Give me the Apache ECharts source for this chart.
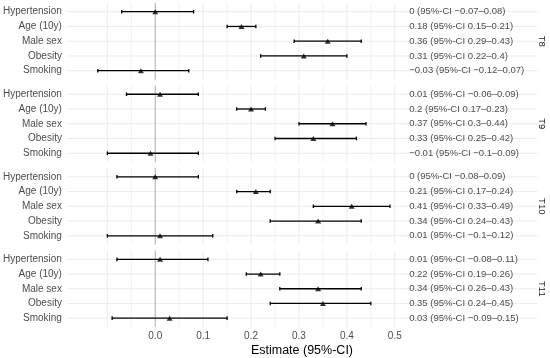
<!DOCTYPE html>
<html>
<head>
<meta charset="utf-8">
<script src="https://cdn.jsdelivr.net/npm/echarts@6/dist/echarts.min.js"></script>
<style>html,body{margin:0;padding:0;background:#fff}#c{width:550px;height:358px}</style>
</head>
<body>
<div id="c"></div>
<script>
const categories = ['Hypertension', 'Age (10y)', 'Male sex', 'Obesity', 'Smoking'];
const panels = ['T8', 'T9', 'T10', 'T11'];
const xTicks = [0, 0.1, 0.2, 0.3, 0.4, 0.5];
const xGridLines = [-0.1, -0.05, 0, 0.05, 0.1, 0.15, 0.2, 0.25, 0.3, 0.35, 0.4, 0.45, 0.5];

const estT8 = [0, 0.18, 0.36, 0.31, -0.03];
const lowT8 = [-0.07, 0.15, 0.29, 0.22, -0.12];
const highT8 = [0.08, 0.21, 0.43, 0.4, 0.07];

const estT9 = [0.01, 0.2, 0.37, 0.33, -0.01];
const lowT9 = [-0.06, 0.17, 0.3, 0.25, -0.1];
const highT9 = [0.09, 0.23, 0.44, 0.42, 0.09];

const estT10 = [0, 0.21, 0.41, 0.34, 0.01];
const lowT10 = [-0.08, 0.17, 0.33, 0.24, -0.1];
const highT10 = [0.09, 0.24, 0.49, 0.43, 0.12];

const estT11 = [0.01, 0.22, 0.34, 0.35, 0.03];
const lowT11 = [-0.08, 0.19, 0.26, 0.24, -0.09];
const highT11 = [0.11, 0.26, 0.43, 0.45, 0.15];

const ests = [estT8, estT9, estT10, estT11];
const lows = [lowT8, lowT9, lowT10, lowT11];
const highs = [highT8, highT9, highT10, highT11];

const FONT = 'Liberation Sans, Arial, Helvetica, sans-serif';
const fmt = v => String(v).replace('-', '\u2212');

const gridLeft = 66, gridWidth = 471;
const gridTop0 = 2.85, gridH = 76.7, gridStep = 82.55;
const xMin = -0.1844, xMax = 0.7969;
const yMin = -0.6, yMax = 4.6;
const labelX = 0.530;

const grids = [], xAxes = [], yAxes = [], series = [], graphics = [];

panels.forEach((p, k) => {
  const top = gridTop0 + k * gridStep;
  grids.push({left: gridLeft, width: gridWidth, top: top, height: gridH, containLabel: false});
  const last = k === panels.length - 1;
  xAxes.push({
    type: 'value', gridIndex: k, min: xMin, max: xMax,
    axisLine: {show: false}, axisTick: {show: false}, splitLine: {show: false},
    axisLabel: {
      show: last, customValues: xTicks, formatter: v => v.toFixed(1),
      color: '#4d4d4d', fontSize: 10, fontFamily: FONT, margin: 4
    },
    name: last ? 'Estimate (95%-CI)' : '', nameLocation: 'middle', nameGap: 17,
    nameTextStyle: {color: '#000', fontSize: 12.5, fontFamily: FONT}
  });
  yAxes.push({
    type: 'value', gridIndex: k, min: yMin, max: yMax, inverse: true,
    axisLine: {show: false}, axisTick: {show: false}, splitLine: {show: false},
    axisLabel: {
      customValues: [0, 1, 2, 3, 4], formatter: v => categories[Math.round(v)] || '',
      color: '#4d4d4d', fontSize: 10, fontFamily: FONT, margin: 5
    }
  });

  // background grid lines
  const gridData = [];
  xGridLines.forEach(v => gridData.push([v, 0, Math.abs(Math.round(v * 10) - v * 10) < 1e-6 ? 1 : 0]));
  categories.forEach((c, i) => gridData.push([0, i, 2]));
  series.push({
    type: 'custom', xAxisIndex: k, yAxisIndex: k, silent: true, z: 0,
    data: gridData,
    renderItem: (params, api) => {
      const kind = api.value(2);
      let a, b;
      if (kind === 2) {
        a = api.coord([xMin, api.value(1)]); b = api.coord([xMax, api.value(1)]);
      } else {
        a = api.coord([api.value(0), yMin]); b = api.coord([api.value(0), yMax]);
      }
      return {type: 'line', shape: {x1: a[0], y1: a[1], x2: b[0], y2: b[1]},
        style: {stroke: '#ebebeb', lineWidth: kind === 0 ? 0.7 : 1}};
    }
  });
  // zero reference line
  series.push({
    type: 'custom', xAxisIndex: k, yAxisIndex: k, silent: true, z: 1,
    data: [[0]],
    renderItem: (params, api) => {
      const a = api.coord([api.value(0), yMin]), b = api.coord([api.value(0), yMax]);
      return {type: 'line', shape: {x1: a[0], y1: a[1], x2: b[0], y2: b[1]},
        style: {stroke: '#b3b3b3', lineWidth: 1}};
    }
  });
  // error bars
  series.push({
    type: 'custom', xAxisIndex: k, yAxisIndex: k, silent: true, z: 2,
    data: categories.map((c, i) => [lows[k][i], highs[k][i], i]),
    renderItem: (params, api) => {
      const a = api.coord([api.value(0), api.value(2)]);
      const b = api.coord([api.value(1), api.value(2)]);
      const st = {stroke: '#000', lineWidth: 1.3};
      const cap = 1.8;
      return {type: 'group', children: [
        {type: 'line', shape: {x1: a[0], y1: a[1], x2: b[0], y2: b[1]}, style: st},
        {type: 'line', shape: {x1: a[0], y1: a[1] - cap, x2: a[0], y2: a[1] + cap}, style: st},
        {type: 'line', shape: {x1: b[0], y1: b[1] - cap, x2: b[0], y2: b[1] + cap}, style: st}
      ]};
    }
  });
  // points
  series.push({
    type: 'scatter', xAxisIndex: k, yAxisIndex: k, silent: true, z: 3,
    symbol: 'triangle', symbolSize: [6, 5],
    itemStyle: {color: '#000'},
    data: categories.map((c, i) => [ests[k][i], i])
  });
  // text labels
  series.push({
    type: 'scatter', xAxisIndex: k, yAxisIndex: k, silent: true, z: 3,
    symbolSize: 0,
    data: categories.map((c, i) => ({
      value: [labelX, i],
      label: {formatter: fmt(ests[k][i]) + ' (95%-CI ' + fmt(lows[k][i]) + '\u2013' + fmt(highs[k][i]) + ')'}
    })),
    label: {show: true, position: 'right', distance: 0, color: '#1a1a1a', fontSize: 9.5, fontFamily: FONT}
  });
  graphics.push({
    type: 'text', x: 542, y: top + gridH / 2, rotation: -Math.PI / 2,
    style: {text: p, fill: '#1a1a1a', fontSize: 9.5, fontFamily: FONT, textAlign: 'center', textVerticalAlign: 'middle'}
  });
});

const chart = echarts.init(document.getElementById('c'), null, {renderer: 'canvas'});
chart.setOption({
  animation: false,
  grid: grids, xAxis: xAxes, yAxis: yAxes, series: series, graphic: graphics
});
</script>
</body>
</html>
